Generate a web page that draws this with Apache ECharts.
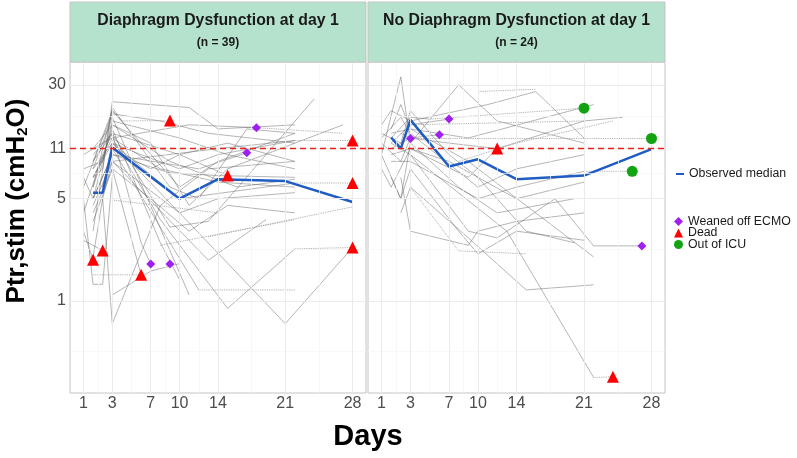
<!DOCTYPE html>
<html>
<head>
<meta charset="utf-8">
<script src="https://cdn.jsdelivr.net/npm/echarts@6/dist/echarts.min.js"></script>
<style>
  html, body { margin: 0; padding: 0; background: #fff; }
  #chart { width: 797px; height: 458px; }
</style>
</head>
<body>
<div id="chart"></div>
<script>
const FONT = '"Liberation Sans", Arial, sans-serif'

// axis breaks (x position 0 carries the "1" label, as in the original)
const xTicks = [0, 3, 7, 10, 14, 21, 28]
const xTickLabels = ['1', '3', '7', '10', '14', '21', '28']
const xMinor = [1.5, 5, 8.5, 12, 17.5, 24.5]
const yTicks = [1, 5, 11, 30]
const yMinor = [0.447, 2.236, 7.416, 18.17]
const threshold = 11

const panelTitles = ['Diaphragm Dysfunction at day 1', 'No Diaphragm Dysfunction at day 1']
const panelCounts = ['(n = 39)', '(n = 24)']
const outcomeNames = ['Weaned off ECMO', 'Dead', 'Out of ICU']

// observed medians
const medianDD = [[1, 5.5], [2, 5.5], [3, 11.2], [10, 5.0], [14, 6.8], [21, 6.6], [28, 4.75]]
const medianNoDD = [[1, 13.1], [2, 11.0], [3, 17.3], [7, 8.3], [10, 9.3], [14, 6.8], [21, 7.2], [28, 10.9]]

// outcome markers
const weanedDD = [[17, 10.3], [18, 15.3], [7, 1.79], [9, 1.79]]
const deadDD = [[9, 17.1], [15, 7.2], [28, 12.5], [28, 6.4], [1, 1.91], [2, 2.21], [6, 1.51], [28, 2.32]]
const outIcuDD = []
const weanedNoDD = [[3, 12.9], [6, 13.7], [7, 17.5], [27, 2.38]]
const deadNoDD = [[12, 11], [24, 0.303]]
const outIcuNoDD = [[21, 20.8], [28, 12.9], [26, 7.7]]

// individual patient trajectories
const linesDD = [
  [[1, 7], [2, 8], [3, 23], [11, 21], [14, 15], [22, 16]],
  [[0, 6], [3, 19], [8, 17], [13, 14], [22, 12]],
  [[1, 9], [3, 20], [10, 6], [14, 9], [22, 14]],
  [[1, 5], [3, 16], [7, 12], [11, 4.5], [15, 8], [27, 16]],
  [[0, 4], [2, 10], [3, 14], [9, 3.2], [13, 3.5], [24, 24]],
  [[1, 8], [3, 12], [6, 10], [10, 8], [14, 10], [22, 12.5]],
  [[1, 3], [3, 21], [9, 6], [12, 5], [17, 15], [22, 14]],
  [[0, 10], [2, 12], [3, 13], [8, 8], [14, 6.5], [22, 6]],
  [[1, 4.5], [3, 9], [10, 4], [14, 5], [22, 5.5]],
  [[2, 6], [3, 11], [7, 8], [10, 10], [15, 12], [22, 9]],
  [[0, 7], [1, 5], [3, 10], [9, 7.5], [14, 7.2], [22, 7]],
  [[1, 3.5], [3, 8], [7, 5], [11, 3], [15, 4.5], [22, 4]],
  [[1, 6], [3, 15], [8, 2.5], [10, 1.4]],
  [[1, 2], [2, 5], [3, 0.7], [8, 4.5], [13, 8], [22, 9]],
  [[0, 5], [1, 1.3], [2, 1.3], [3, 7]],
  [[3, 1.1], [7, 1.6], [10, 1.8]],
  [[1, 8], [3, 18], [11, 1.1]],
  [[3, 13], [8, 3.6], [15, 0.89], [22, 2.27]],
  [[2, 6], [3, 12], [10, 4], [21, 0.7], [28, 2.32]],
  [[3, 11], [12, 1.19]],
  [[3, 9], [13, 1.9], [19, 3.6]],
  [[1, 4], [3, 8], [6, 1.51]],
  [[1, 9], [3, 14], [6, 2.5], [7, 1.79]],
  [[0, 3], [1, 1.91]],
  [[0, 2.6], [2, 2.21]],
  [[1, 6], [3, 20], [4, 17]],
  [[1, 10], [3, 14], [10, 10], [15, 7.2]],
  [[1, 7], [3, 13], [11, 16], [18, 15.3]],
  [[1, 5], [3, 10], [12, 8], [17, 10.3]],
  [[2, 5], [3, 9], [14, 11], [22, 12.5]],
  [[1, 7], [3, 12], [10, 5], [22, 6.4]],
  [[0, 8], [2, 9], [3, 17], [10, 13], [15, 10], [22, 8]],
  [[1, 11], [3, 16], [9, 9], [16, 6], [22, 6.8]]
]
const dottedDD = [
  [[4, 17], [9, 17.1]],
  [[22, 12.5], [28, 12.5]],
  [[22, 6.4], [28, 6.4]],
  [[22, 2.27], [28, 2.32]],
  [[12, 1.19], [22, 1.19]],
  [[1, 1.51], [6, 1.51]],
  [[3, 4.9], [14, 4.0]],
  [[13, 2.75], [28, 4.4]],
  [[8, 2.4], [22, 3.6]],
  [[18, 15.3], [27, 14]]
]

const linesNoDD = [
  [[0, 10], [2, 34], [3, 12], [8, 30], [12, 17], [21, 12]],
  [[0, 16], [1, 20], [3, 17], [11, 22], [16, 27], [21, 13]],
  [[1, 13], [3, 18], [5, 17.5]],
  [[1, 14], [3, 15], [9, 13], [22, 22]],
  [[0, 12], [2, 9], [3, 13], [7, 12], [12, 11], [21, 17], [25, 18]],
  [[1, 11], [3, 13], [6, 13.7]],
  [[2, 14], [3, 12.9]],
  [[1, 12], [3, 16], [7, 17.5]],
  [[0, 8], [1, 6], [3, 11], [9, 7], [12, 11]],
  [[1, 9], [3, 9], [10, 5], [14, 6], [21, 7.7]],
  [[0, 10], [2, 5], [3, 12], [8, 6], [12, 4], [20, 5]],
  [[1, 7], [2, 5], [3, 8], [8, 3], [10, 2.1], [14, 3], [21, 2.6]],
  [[2, 4], [3, 6], [9, 2.7], [15, 1.19], [22, 1.29]],
  [[3, 10], [9, 3], [12, 2.7], [18, 5], [22, 2.38], [27, 2.38]],
  [[1, 12], [3, 10], [13, 3], [22, 0.3]],
  [[2, 7], [3, 3], [9, 2.4], [10, 3], [14, 3.5], [21, 4]],
  [[1, 10], [3, 11], [7, 9], [14, 5], [21, 6.5]],
  [[0, 13], [2, 18], [3, 14], [10, 6], [14, 8], [21, 10]],
  [[1, 15], [2, 22], [3, 15], [9, 9], [16, 4], [22, 2]],
  [[0, 14], [2, 12], [3, 20], [7, 10], [10, 7], [15, 3], [20, 2.5]]
]
const dottedNoDD = [
  [[5, 17.5], [21, 20.8]],
  [[3, 12.9], [28, 12.9]],
  [[21, 7.7], [26, 7.7]],
  [[22, 0.3], [24, 0.303]],
  [[3, 6], [8, 2.2], [15, 2.1]],
  [[3, 16], [21, 17]],
  [[8, 9], [14, 12], [24, 17]],
  [[10, 27], [16, 28]]
]

const chart = echarts.init(document.getElementById('chart'), null, { renderer: 'canvas' })

const grids = [
  { left: 70, top: 62, width: 296, height: 331 },
  { left: 368, top: 62, width: 297, height: 331 }
]

const gridLineSeries = (gi) => ({
  type: 'line',
  xAxisIndex: gi,
  yAxisIndex: gi,
  data: [],
  silent: true,
  z: 1,
  markLine: {
    silent: true,
    symbol: ['none', 'none'],
    label: { show: false },
    animation: false,
    data: [
      ...xMinor.map(v => ({ xAxis: v, lineStyle: { color: '#f5f5f5', width: 0.7, type: 'solid' } })),
      ...yMinor.map(v => ({ yAxis: v, lineStyle: { color: '#f5f5f5', width: 0.7, type: 'solid' } })),
      ...xTicks.map(v => ({ xAxis: v, lineStyle: { color: '#ebebeb', width: 1, type: 'solid' } })),
      ...yTicks.map(v => ({ yAxis: v, lineStyle: { color: '#ebebeb', width: 1, type: 'solid' } }))
    ]
  }
})

const patientSeries = (lines, gi, dotted) => lines.map(pts => ({
  type: 'line',
  xAxisIndex: gi,
  yAxisIndex: gi,
  data: pts,
  symbol: 'none',
  silent: true,
  z: 2,
  lineStyle: dotted
    ? { color: '#a0a0a0', width: 0.9, type: 'dotted' }
    : { color: 'rgba(100,100,100,0.6)', width: 0.8 }
}))

const medianSeries = (data, gi) => ({
  name: 'Observed median',
  type: 'line',
  xAxisIndex: gi,
  yAxisIndex: gi,
  data: data,
  symbol: 'none',
  z: 4,
  itemStyle: { color: '#1f5cc4' },
  lineStyle: { color: '#1f5cc4', width: 2.5 },
  markLine: {
    silent: true,
    symbol: ['none', 'none'],
    label: { show: false },
    lineStyle: { color: '#e8211d', width: 1.4, type: [6, 4] },
    data: [{ yAxis: threshold }]
  }
})

const markerSeries = (name, data, gi, symbol, size, color) => ({
  name: name,
  type: 'scatter',
  xAxisIndex: gi,
  yAxisIndex: gi,
  data: data,
  symbol: symbol,
  symbolSize: size,
  z: 5,
  itemStyle: { color: color, opacity: 1 }
})

const PURPLE = '#a020f0'
const RED = '#ff0000'
const GREEN = '#12a312'

const axisLabelStyle = { color: '#4d4d4d', fontSize: 16, fontFamily: FONT }
const legendText = { fontSize: 12.3, color: '#1a1a1a', fontFamily: FONT }

const graphics = []
grids.forEach((g, i) => {
  graphics.push({
    type: 'rect',
    shape: { x: g.left, y: 2, width: g.width, height: 60 },
    style: { fill: '#b5e2cd', stroke: '#c4c4c4', lineWidth: 1 },
    z: 10
  })
  graphics.push({
    type: 'text',
    x: g.left + g.width / 2,
    y: 21,
    style: {
      text: panelTitles[i], fill: '#1a1a1a',
      font: 'bold 15.8px ' + FONT, textAlign: 'center', textVerticalAlign: 'middle'
    },
    z: 11
  })
  graphics.push({
    type: 'text',
    x: g.left + g.width / 2,
    y: 43,
    style: {
      text: panelCounts[i], fill: '#1a1a1a',
      font: 'bold 12px ' + FONT, textAlign: 'center', textVerticalAlign: 'middle'
    },
    z: 11
  })
})
graphics.push({
  type: 'text',
  x: 368,
  y: 437,
  style: {
    text: 'Days', fill: '#000',
    font: 'bold 29px ' + FONT, textAlign: 'center', textVerticalAlign: 'middle'
  }
})
graphics.push({
  type: 'text',
  x: 15,
  y: 201,
  rotation: Math.PI / 2,
  style: {
    text: '{a|Ptr,stim (cmH}{s|2}{a|O)}',
    textAlign: 'center',
    textVerticalAlign: 'middle',
    rich: {
      a: { fontSize: 26, fontWeight: 'bold', fontFamily: FONT, fill: '#000', color: '#000', lineHeight: 30, verticalAlign: 'bottom' },
      s: { fontSize: 15, fontWeight: 'bold', fontFamily: FONT, fill: '#000', color: '#000', lineHeight: 22, verticalAlign: 'bottom' }
    }
  }
})

// one legend per outcome so the rows can sit as tight as in the original
const outcomeLegends = outcomeNames.map((name, i) => ({
  data: [name],
  left: 674,
  top: 215.5 + i * 11.5,
  itemWidth: 9,
  itemHeight: 9,
  padding: 0,
  selectedMode: false,
  textStyle: legendText
}))

const option = {
  backgroundColor: '#ffffff',
  animation: false,
  textStyle: { fontFamily: FONT },
  grid: grids.map(g => ({
    ...g,
    show: true,
    backgroundColor: '#ffffff',
    borderColor: '#c4c4c4',
    borderWidth: 1
  })),
  xAxis: grids.map((g, i) => ({
    type: 'value',
    gridIndex: i,
    min: -1.4,
    max: 29.4,
    axisLine: { show: false },
    axisTick: { show: false },
    splitLine: { show: false },
    axisLabel: {
      ...axisLabelStyle,
      margin: 3,
      customValues: xTicks,
      formatter: v => xTickLabels[xTicks.indexOf(v)] ?? ''
    }
  })),
  yAxis: grids.map((g, i) => ({
    type: 'log',
    logBase: 10,
    gridIndex: i,
    min: 0.235,
    max: 43,
    axisLine: { show: false },
    axisTick: { show: false },
    splitLine: { show: false },
    minorSplitLine: { show: false },
    axisLabel: {
      ...axisLabelStyle,
      show: i === 0,
      margin: 4,
      customValues: yTicks,
      formatter: v => String(Math.round(v))
    }
  })),
  legend: [
    {
      data: [{ name: 'Observed median', icon: 'rect' }],
      left: 676,
      top: 168,
      itemWidth: 8,
      itemHeight: 2,
      padding: 0,
      selectedMode: false,
      textStyle: legendText
    },
    ...outcomeLegends
  ],
  graphic: graphics,
  series: [
    gridLineSeries(0),
    gridLineSeries(1),
    ...patientSeries(linesDD, 0, false),
    ...patientSeries(dottedDD, 0, true),
    ...patientSeries(linesNoDD, 1, false),
    ...patientSeries(dottedNoDD, 1, true),
    medianSeries(medianDD, 0),
    medianSeries(medianNoDD, 1),
    markerSeries('Weaned off ECMO', weanedDD, 0, 'diamond', 9, PURPLE),
    markerSeries('Dead', deadDD, 0, 'triangle', 12, RED),
    markerSeries('Out of ICU', outIcuDD, 0, 'circle', 11, GREEN),
    markerSeries('Weaned off ECMO', weanedNoDD, 1, 'diamond', 9, PURPLE),
    markerSeries('Dead', deadNoDD, 1, 'triangle', 12, RED),
    markerSeries('Out of ICU', outIcuNoDD, 1, 'circle', 11, GREEN)
  ]
}

chart.setOption(option)
</script>
</body>
</html>
